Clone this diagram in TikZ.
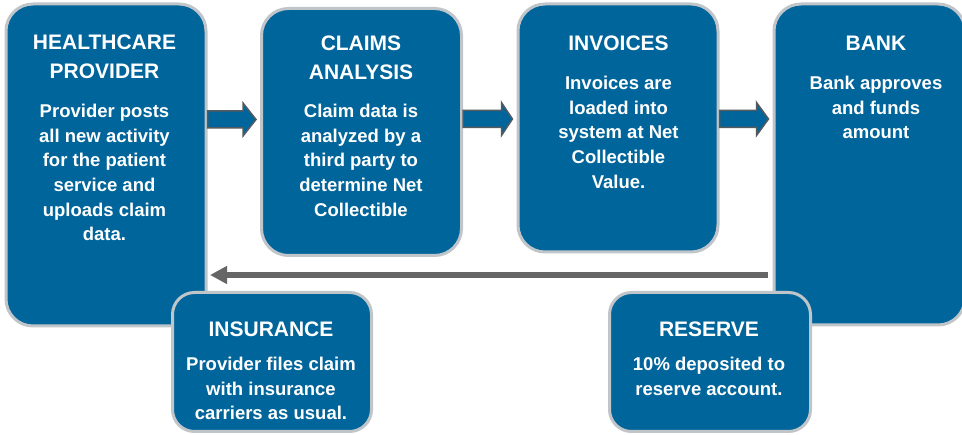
\documentclass[tikz,border=0pt]{standalone}
\usepackage{fontspec}
\setmainfont{Liberation Sans}
\usetikzlibrary{calc,arrows.meta}
\definecolor{boxblue}{RGB}{0,101,154}
\definecolor{boxrim}{RGB}{192,197,201}
\definecolor{arrowrim}{RGB}{85,90,95}
\definecolor{retgray}{RGB}{102,102,102}
\begin{document}
\begin{tikzpicture}[x=1pt,y=-1pt,
  bigbox/.style={draw=boxrim, line width=3pt, fill=boxblue, rounded corners=27pt, inner sep=0pt},
  smallbox/.style={draw=boxrim, line width=3pt, fill=boxblue, rounded corners=22pt, inner sep=0pt},
  ttl/.style={text=white, font=\bfseries\fontsize{21}{28.5}\selectfont, align=center, anchor=north, inner sep=0pt},
  bdy/.style={text=white, font=\bfseries\fontsize{18.5}{24.6}\selectfont, align=center, anchor=north, inner sep=0pt},
  blk/.style={fill=boxblue, draw=arrowrim, line width=1.5pt, line join=miter},
  retarrow/.style={draw=retgray, line width=6pt, -{Triangle[length=17pt,width=17pt]}}]
\fill[white] (0,0) rectangle (962,435);
\useasboundingbox (0,0) rectangle (962,435);
% main boxes
\node[bigbox, minimum width=200pt, minimum height=322pt] (hp) at (106,165) {};
\node[bigbox, minimum width=200pt, minimum height=247pt] (ca) at (361.5,132) {};
\node[bigbox, minimum width=200pt, minimum height=248pt] (inv) at (618,128) {};
\node[bigbox, minimum width=191pt, minimum height=321pt] (bk) at (869.5,164.5) {};
% block arrows
\draw[blk] (hp.east|-0,111) -- ($(ca.west|-0,111)+(-17,0)$) -- ($(ca.west|-0,103)+(-17,0)$)
  -- ($(ca.west|-0,119.5)+(-4,0)$) -- ($(ca.west|-0,136)+(-17,0)$) -- ($(ca.west|-0,128)+(-17,0)$)
  -- (hp.east|-0,128) -- cycle;
\draw[blk] (ca.east|-0,110.5) -- ($(inv.west|-0,110.5)+(-15,0)$) -- ($(inv.west|-0,102.5)+(-15,0)$)
  -- ($(inv.west|-0,119)+(-4,0)$) -- ($(inv.west|-0,135.5)+(-15,0)$) -- ($(inv.west|-0,127.5)+(-15,0)$)
  -- (ca.east|-0,127.5) -- cycle;
\draw[blk] (inv.east|-0,110.5) -- ($(bk.west|-0,110.5)+(-16,0)$) -- ($(bk.west|-0,102.5)+(-16,0)$)
  -- ($(bk.west|-0,119)+(-4,0)$) -- ($(bk.west|-0,135.5)+(-16,0)$) -- ($(bk.west|-0,127.5)+(-16,0)$)
  -- (inv.east|-0,127.5) -- cycle;
% return arrow
\draw[retarrow] ($(bk.west|-0,275)+(-5,0)$) -- ($(hp.east|-0,275)+(2.5,0)$);
% lower boxes
\node[smallbox, minimum width=199pt, minimum height=139pt] (ins) at (272,362) {};
\node[smallbox, minimum width=201pt, minimum height=139pt] (res) at (710,362) {};
% texts
\node[ttl] (hpT) at (104.5,35) {HEALTHCARE\\PROVIDER};
\node[bdy] (hpB) at (104.5,104) {Provider posts\\all new activity\\for the patient\\service and\\uploads claim\\data.};
\node[ttl] (caT) at (361,36) {CLAIMS\\ANALYSIS};
\node[bdy] (caB) at (361,104) {Claim data is\\analyzed by a\\third party to\\determine Net\\Collectible};
\node[ttl] (invT) at (618.5,36) {INVOICES};
\node[bdy] (invB) at (618.5,76) {Invoices are\\loaded into\\system at Net\\Collectible\\Value.};
\node[ttl] (bkT) at (876,36) {BANK};
\node[bdy] (bkB) at (876,76) {Bank approves\\and funds\\amount};
\node[ttl] (insT) at (271,322) {INSURANCE};
\node[bdy] (insB) at (271,357) {Provider files claim\\with insurance\\carriers as usual.};
\node[ttl] (resT) at (709,322) {RESERVE};
\node[bdy] (resB) at (709,357) {10\% deposited to\\reserve account.};
\end{tikzpicture}
\end{document}
